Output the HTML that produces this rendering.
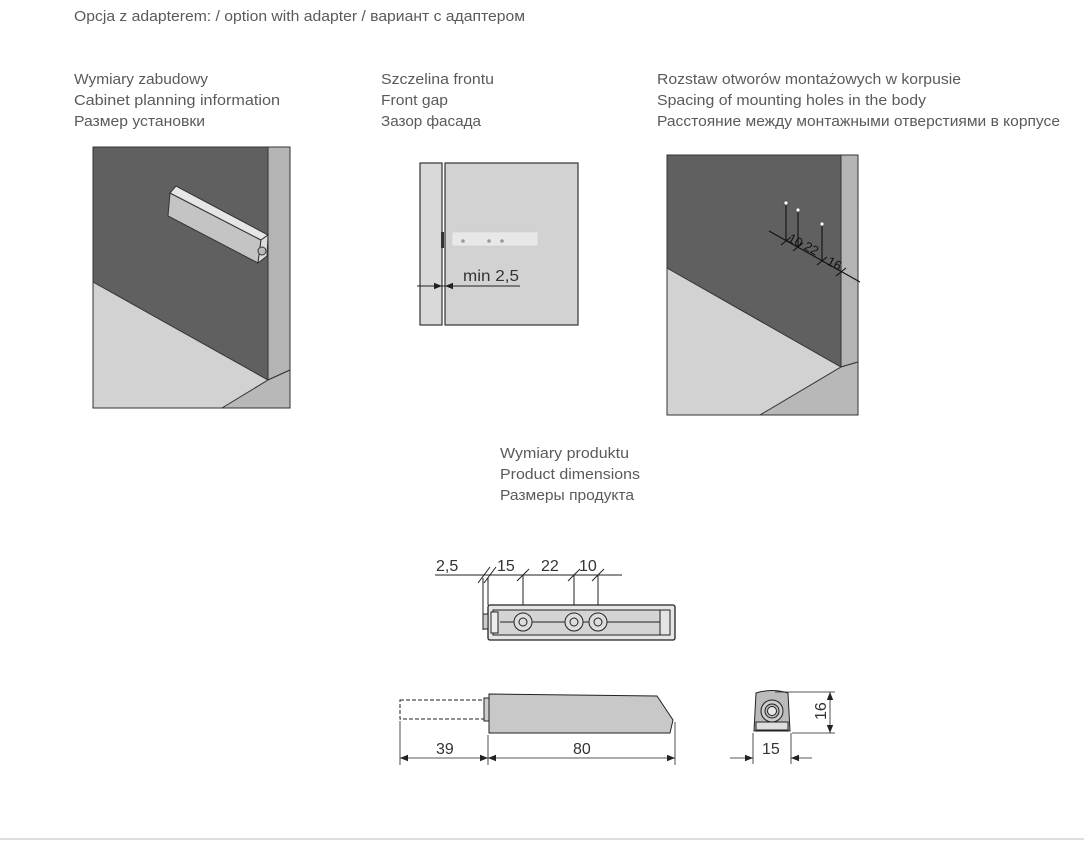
<!DOCTYPE html>
<html><head><meta charset="utf-8"><style>
html,body{margin:0;padding:0;background:#fff;width:1084px;height:846px;overflow:hidden}
svg{display:block}
text{font-family:"Liberation Sans",sans-serif;fill:#5a5a5a}
.t{font-size:15px}
.d{font-size:16px;fill:#333}
</style></head><body>
<svg width="1084" height="846" viewBox="0 0 1084 846" xmlns="http://www.w3.org/2000/svg">
<defs>
<marker id="a" viewBox="0 0 10 10" refX="10" refY="5" markerWidth="14" markerHeight="8" markerUnits="userSpaceOnUse" orient="auto-start-reverse"><path d="M0,1 L10,5 L0,9z" fill="#222"/></marker>
</defs>
<text class="t" x="74" y="21" textLength="451" lengthAdjust="spacingAndGlyphs">Opcja z adapterem: / option with adapter / вариант с адаптером</text>
<text class="t" x="74" y="84" textLength="134" lengthAdjust="spacingAndGlyphs">Wymiary zabudowy</text>
<text class="t" x="74" y="105" textLength="206" lengthAdjust="spacingAndGlyphs">Cabinet planning information</text>
<text class="t" x="74" y="126" textLength="131" lengthAdjust="spacingAndGlyphs">Размер установки</text>
<text class="t" x="381" y="84" textLength="113" lengthAdjust="spacingAndGlyphs">Szczelina frontu</text>
<text class="t" x="381" y="105" textLength="67" lengthAdjust="spacingAndGlyphs">Front gap</text>
<text class="t" x="381" y="126" textLength="100" lengthAdjust="spacingAndGlyphs">Зазор фасада</text>
<text class="t" x="657" y="84" textLength="304" lengthAdjust="spacingAndGlyphs">Rozstaw otworów montażowych w korpusie</text>
<text class="t" x="657" y="105" textLength="269" lengthAdjust="spacingAndGlyphs">Spacing of mounting holes in the body</text>
<text class="t" x="657" y="126" textLength="403" lengthAdjust="spacingAndGlyphs">Расстояние между монтажными отверстиями в корпусе</text>
<text class="t" x="500" y="458" textLength="129" lengthAdjust="spacingAndGlyphs">Wymiary produktu</text>
<text class="t" x="500" y="479" textLength="140" lengthAdjust="spacingAndGlyphs">Product dimensions</text>
<text class="t" x="500" y="500" textLength="134" lengthAdjust="spacingAndGlyphs">Размеры продукта</text>

<!-- left image -->
<g stroke="#333" stroke-width="1">
<rect x="93" y="147" width="197" height="261" fill="#d2d2d2"/>
<polygon points="93,147 268,147 268,380 93,282" fill="#606060"/>
<polygon points="268,147 290,147 290,370 268,380" fill="#b4b4b4"/>
<polygon points="268,380 290,370 290,408 222,408" fill="#b8b8b8"/>
<polygon points="170,193 261,240 258,263 168,216" fill="#c4c4c4"/>
<polygon points="170,193 176,186 268,235 261,240" fill="#e6e6e6"/>
<polygon points="261,240 268,235 267,256 258,263" fill="#dcdcdc"/>
<circle cx="262" cy="251" r="4" fill="#bbb"/>
</g>

<!-- middle image -->
<g stroke="#333" stroke-width="1.2">
<rect x="420" y="163" width="22" height="162" fill="#d9d9d9"/>
<rect x="445" y="163" width="133" height="162" fill="#d2d2d2"/>
</g>
<rect x="452" y="232" width="86" height="14" fill="#e8e8e8" stroke="#ccc" stroke-width="0.6"/>
<circle cx="463" cy="241" r="1.8" fill="#999"/><circle cx="489" cy="241" r="1.8" fill="#999"/><circle cx="502" cy="241" r="1.8" fill="#999"/>
<rect x="441" y="232" width="3" height="16" fill="#333"/>
<line x1="417" y1="286" x2="520" y2="286" stroke="#222" stroke-width="1"/>
<line x1="417" y1="286" x2="442" y2="286" stroke="#222" marker-end="url(#a)"/>
<line x1="462" y1="286" x2="445" y2="286" stroke="#222" marker-end="url(#a)"/>
<text class="d" x="463" y="281" textLength="56" lengthAdjust="spacingAndGlyphs">min 2,5</text>

<!-- right image -->
<g stroke="#333" stroke-width="1">
<rect x="667" y="155" width="191" height="260" fill="#d2d2d2"/>
<polygon points="667,155 841,155 841,367 667,268" fill="#606060"/>
<polygon points="841,155 858,155 858,362 841,367" fill="#b4b4b4"/>
<polygon points="841,367 858,362 858,415 760,415" fill="#b8b8b8"/>
</g>
<g stroke="#111" stroke-width="1.1" fill="none">
<line x1="769" y1="231" x2="860" y2="282"/>
<line x1="786" y1="204" x2="786" y2="241"/>
<line x1="798" y1="211" x2="798" y2="247"/>
<line x1="822" y1="225" x2="822" y2="261"/>
<line x1="781" y1="245" x2="791" y2="237"/><line x1="793" y1="251" x2="803" y2="243"/>
<line x1="817" y1="265" x2="827" y2="257"/><line x1="836" y1="276" x2="846" y2="268"/>
</g>
<circle cx="786" cy="203" r="2" fill="#fff" stroke="#333" stroke-width="0.6"/>
<circle cx="798" cy="210" r="2" fill="#fff" stroke="#333" stroke-width="0.6"/>
<circle cx="822" cy="224" r="2" fill="#fff" stroke="#333" stroke-width="0.6"/>
<text x="787" y="241" style="font-size:13px;fill:#111" transform="rotate(28 787 241)">10</text>
<text x="803" y="249" style="font-size:13px;fill:#111" transform="rotate(28 803 249)">22</text>
<text x="826" y="264" style="font-size:13px;fill:#111" transform="rotate(28 826 264)">16</text>

<!-- product top view -->
<g stroke="#222" stroke-width="1" fill="none">
<line x1="435" y1="575" x2="622" y2="575"/>
<line x1="478" y1="583" x2="490" y2="567"/><line x1="484" y1="583" x2="496" y2="567"/>
<line x1="517" y1="581" x2="529" y2="569"/><line x1="568" y1="581" x2="580" y2="569"/><line x1="592" y1="581" x2="604" y2="569"/>
<line x1="483" y1="578" x2="483" y2="630"/><line x1="488" y1="578" x2="488" y2="605"/>
<line x1="523" y1="575" x2="523" y2="622"/><line x1="574" y1="575" x2="574" y2="622"/><line x1="598" y1="575" x2="598" y2="622"/>
<rect x="488" y="605" width="187" height="35" rx="2" fill="#e6e6e6" stroke-width="1.3"/>
<rect x="493" y="610" width="176" height="25" fill="#d4d4d4"/>
<rect x="491" y="612" width="7" height="21" fill="#eee"/>
<rect x="483" y="614" width="5" height="15" fill="#ccc"/>
<line x1="500" y1="622" x2="660" y2="622"/>
<circle cx="523" cy="622" r="9" fill="#ddd"/><circle cx="523" cy="622" r="4"/>
<circle cx="574" cy="622" r="9" fill="#ddd"/><circle cx="574" cy="622" r="4"/>
<circle cx="598" cy="622" r="9" fill="#ddd"/><circle cx="598" cy="622" r="4"/>
<rect x="660" y="610" width="10" height="25" fill="#e4e4e4"/>
</g>
<text class="d" x="436" y="571">2,5</text>
<text class="d" x="497" y="571">15</text>
<text class="d" x="541" y="571">22</text>
<text class="d" x="579" y="571">10</text>

<!-- side view -->
<g stroke="#222" stroke-width="1">
<rect x="400" y="700" width="84" height="19" fill="#fff" stroke-dasharray="4,2"/>
<rect x="484" y="698" width="5" height="23" fill="#ccc"/>
<path d="M489,694 L657,696 L673,720 L670,733 L489,733 Z" fill="#c8c8c8"/>
</g>
<g stroke="#222" stroke-width="0.8" fill="none">
<line x1="400" y1="721" x2="400" y2="765"/><line x1="488" y1="735" x2="488" y2="765"/><line x1="675" y1="722" x2="675" y2="765"/>
<line x1="400" y1="758" x2="488" y2="758" marker-start="url(#a)" marker-end="url(#a)"/>
<line x1="488" y1="758" x2="675" y2="758" marker-start="url(#a)" marker-end="url(#a)"/>
</g>
<text class="d" x="436" y="754">39</text>
<text class="d" x="573" y="754">80</text>

<!-- end view -->
<g stroke="#222" stroke-width="1">
<path d="M756,693 Q772,688 788,693 L790,731 L754,731 Z" fill="#bbb"/>
<rect x="756" y="722" width="32" height="8" fill="#ddd"/>
<circle cx="772" cy="711" r="11" fill="#ccc"/>
<circle cx="772" cy="711" r="7" fill="#bbb"/>
<circle cx="772" cy="711" r="4.5" fill="#e8e8e8"/>
</g>
<g stroke="#222" stroke-width="0.8" fill="none">
<line x1="775" y1="692" x2="835" y2="692"/><line x1="792" y1="733" x2="835" y2="733"/>
<line x1="830" y1="692" x2="830" y2="733" marker-start="url(#a)" marker-end="url(#a)"/>
<line x1="753" y1="733" x2="753" y2="764"/><line x1="791" y1="733" x2="791" y2="764"/>
<line x1="730" y1="758" x2="753" y2="758" marker-end="url(#a)"/>
<line x1="812" y1="758" x2="791" y2="758" marker-end="url(#a)"/>
</g>
<text class="d" x="762" y="754">15</text>
<text class="d" x="0" y="0" transform="translate(826,720) rotate(-90)">16</text>

<rect x="0" y="838" width="1084" height="2" fill="#ddd"/>
</svg>
</body></html>
